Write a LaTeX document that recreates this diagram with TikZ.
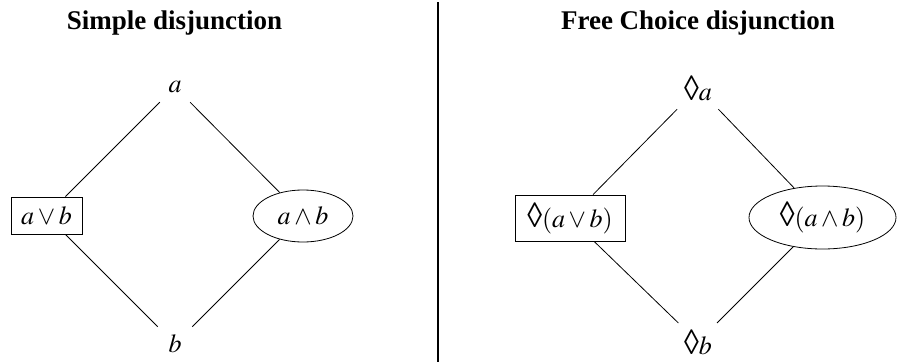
\documentclass[tikz,border=0pt]{standalone}
\usepackage{mathptmx}
\usepackage{graphicx}
\usepackage{fontspec}
\setmainfont{Liberation Serif}
\newcommand{\loz}{\scalebox{1.15}[1.35]{◊}}
\usetikzlibrary{shapes.geometric}
\begin{document}
\begin{tikzpicture}[x=1pt,y=-1pt,
  title/.style={font=\fontsize{27}{32}\selectfont\bfseries, anchor=base, inner sep=0pt},
  lbl/.style={font=\fontsize{26}{30}\selectfont, inner sep=0pt, anchor=center},
  boxnode/.style={lbl, draw, rectangle, line width=0.8pt},
  ellnode/.style={lbl, draw, ellipse, line width=0.8pt},
  conn/.style={line width=0.8pt},
  divider/.style={line width=1.3pt}]
\useasboundingbox (0,0) rectangle (897,362);
% titles
\node[title] (t1) at (174.5,29) {Simple disjunction};
\node[title] (t2) at (698,29) {Free Choice disjunction};
% divider
\draw[divider] (438,2) -- (438,362);
% left diagram
\node[lbl, minimum width=30pt, minimum height=30pt] (a) at (175,87) {$a$};
\node[lbl, minimum width=34pt, minimum height=32pt] (b) at (175,344) {$b$};
\node[boxnode, minimum width=71pt, minimum height=37pt] (or) at (46.5,215.5) {$a\vee b$};
\node[ellnode, minimum width=100pt, minimum height=52pt] (and) at (303,216) {$a\wedge b$};
\draw[conn] (a) -- (or);
\draw[conn] (a) -- (and);
\draw[conn, shorten >=1.5pt] (or) -- (b);
\draw[conn, shorten >=1.5pt] (and) -- (b);
% right diagram
\node[lbl, minimum width=42pt, minimum height=42pt] (da) at (698,88) {\loz$a$};
\node[lbl, minimum width=42pt, minimum height=32pt] (db) at (698,342) {\loz$b$};
\node[boxnode, minimum width=110pt, minimum height=46pt] (dor) at (570,218) {\loz$(a\vee b)$};
\node[ellnode, minimum width=147pt, minimum height=63pt] (dand) at (822.5,217.5) {\loz$(a\wedge b)$};
\draw[conn] (da) -- (dor);
\draw[conn] (da) -- (dand);
\draw[conn, shorten >=4pt] (dor) -- (db);
\draw[conn, shorten >=4pt] (dand) -- (db);
\end{tikzpicture}
\end{document}
